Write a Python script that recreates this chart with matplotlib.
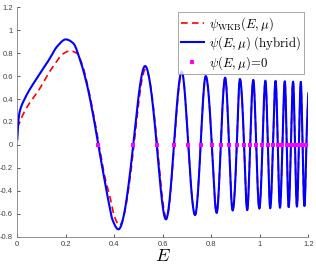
import matplotlib.pyplot as plt
import numpy as np

plt.rcParams['mathtext.fontset'] = 'cm'
plt.rcParams['font.family'] = 'Liberation Sans'

# hybrid curve: key points (zeros, extrema, a few in between)
E_hyb = [0.000, 0.004, 0.010, 0.030, 0.080, 0.130, 0.165, 0.200, 0.231, 0.259,
         0.286, 0.314, 0.334, 0.355, 0.375, 0.393, 0.417,
         0.478, 0.527, 0.575, 0.613, 0.646, 0.678, 0.705, 0.733, 0.756, 0.777,
         0.802, 0.822, 0.839, 0.857, 0.873, 0.888, 0.905, 0.918, 0.935, 0.948,
         0.960, 0.973, 0.985, 0.998, 1.011, 1.023, 1.033, 1.043, 1.054, 1.065,
         1.074, 1.083, 1.093, 1.103, 1.111, 1.119, 1.128, 1.137, 1.145, 1.153,
         1.161, 1.169, 1.176, 1.184, 1.192, 1.200]
psi_hyb = [0.05, 0.20, 0.29, 0.40, 0.58, 0.74, 0.86, 0.92, 0.886, 0.74,
           0.537, 0.246, 0.0, -0.25, -0.48, -0.655, -0.736,
           0.0, 0.688, 0.0, -0.649, 0.0, 0.638, 0.0, -0.611, 0.0, 0.600,
           0.0, -0.593, 0.0, 0.586, 0.0, -0.572, 0.0, 0.575, 0.0, -0.568,
           0.0, 0.566, 0.0, -0.555, 0.0, 0.560, 0.0, -0.552, 0.0, 0.557,
           0.0, -0.547, 0.0, 0.555, 0.0, -0.542, 0.0, 0.552, 0.0, -0.537,
           0.0, 0.550, 0.0, -0.532, 0.0, 0.45]

# WKB curve: differs at low E, then lies under the hybrid curve
E_wkb_head = [0.000, 0.020, 0.041, 0.089, 0.138, 0.193, 0.217, 0.245, 0.268,
              0.290, 0.316, 0.337, 0.358, 0.385, 0.400, 0.421, 0.481, 0.529,
              0.577, 0.615, 0.647, 0.679]
psi_wkb_head = [0.15, 0.25, 0.333, 0.479, 0.654, 0.80, 0.82, 0.80, 0.70,
                0.52, 0.25, 0.0, -0.25, -0.48, -0.62, -0.70, 0.0, 0.66,
                0.0, -0.635, 0.0, 0.630]
E_wkb = E_wkb_head + E_hyb[23:]
psi_wkb = psi_wkb_head + psi_hyb[23:]

E_zero = [e for e, p in zip(E_hyb, psi_hyb) if p == 0.0 and e < 1.199]

xticks = [0, 0.2, 0.4, 0.6, 0.8, 1, 1.2]
xtick_labels = ['0', '0.2', '0.4', '0.6', '0.8', '1', '1.2']
yticks = [-0.8, -0.6, -0.4, -0.2, 0, 0.2, 0.4, 0.6, 0.8, 1, 1.2]
ytick_labels = ['-0.8', '-0.6', '-0.4', '-0.2', '0', '0.2', '0.4', '0.6', '0.8', '1', '1.2']


def smooth(xk, yk, n=24):
    # cubic hermite through the read points, flat at extrema
    xk = np.asarray(xk, float)
    yk = np.asarray(yk, float)
    h = np.diff(xk)
    d = np.diff(yk) / h
    m = np.zeros_like(yk)
    m[0], m[-1] = d[0], d[-1]
    for i in range(1, len(xk) - 1):
        if d[i - 1] * d[i] > 0:
            w1 = 2 * h[i] + h[i - 1]
            w2 = h[i] + 2 * h[i - 1]
            m[i] = (w1 + w2) / (w1 / d[i - 1] + w2 / d[i])
    for i in range(1, len(xk) - 1):
        if yk[i] == 0 and m[i - 1] == 0 and (i + 1 == len(xk) - 1 or m[i + 1] == 0):
            m[i] *= 1.5
    xs, ys = [], []
    t = np.linspace(0, 1, n)
    for i in range(len(xk) - 1):
        h00 = 2 * t**3 - 3 * t**2 + 1
        h10 = t**3 - 2 * t**2 + t
        h01 = -2 * t**3 + 3 * t**2
        h11 = t**3 - t**2
        xs.append(xk[i] + t * h[i])
        ys.append(h00 * yk[i] + h10 * h[i] * m[i] + h01 * yk[i + 1] + h11 * h[i] * m[i + 1])
    return np.concatenate(xs), np.concatenate(ys)


fig = plt.figure(figsize=(3.16, 2.65), dpi=100)
ax = fig.add_axes([0.0547, 0.1068, 0.921, 0.8657])

x1, y1 = smooth(E_wkb, psi_wkb)
x2, y2 = smooth(E_hyb, psi_hyb)
ax.plot(x1, y1, '--', color='#ff0000', lw=1.2, dashes=(4, 2.5),
        label=r'$\psi_{\rm WKB}(E,\mu)$')
ax.plot(x2, y2, '-', color='#0000ff', lw=1.5, label=r'$\psi(E,\mu)\ \mathrm{(hybrid)}$')
ax.plot(E_zero, np.zeros(len(E_zero)), 's', color='#ff00ff', ms=2.6, mew=0,
        zorder=4, label=r'$\psi(E,\mu)\!=\!0$')

ax.set_xlim(0, 1.2)
ax.set_ylim(-0.8, 1.2)
ax.set_xticks(xticks, xtick_labels)
ax.set_yticks(yticks, ytick_labels)
ax.tick_params(direction='in', length=2.5, width=0.6, labelsize=5.5,
               colors='#404040', pad=3)
for s in ['top', 'right']:
    ax.spines[s].set_visible(False)
for s in ['left', 'bottom']:
    ax.spines[s].set_color('#808080')
    ax.spines[s].set_linewidth(0.6)
ax.set_xlabel(r'$E$', fontsize=13, labelpad=0)

leg = ax.legend(loc='upper right', bbox_to_anchor=(0.984, 0.978), fontsize=9.2,
                frameon=True, fancybox=False, handlelength=1.8, handletextpad=0.4,
                borderpad=0.22, labelspacing=0.12, markerscale=0.9,
                borderaxespad=0)
leg.get_frame().set_edgecolor('#808080')
leg.get_frame().set_linewidth(0.6)

plt.savefig('out.png', dpi=100)
